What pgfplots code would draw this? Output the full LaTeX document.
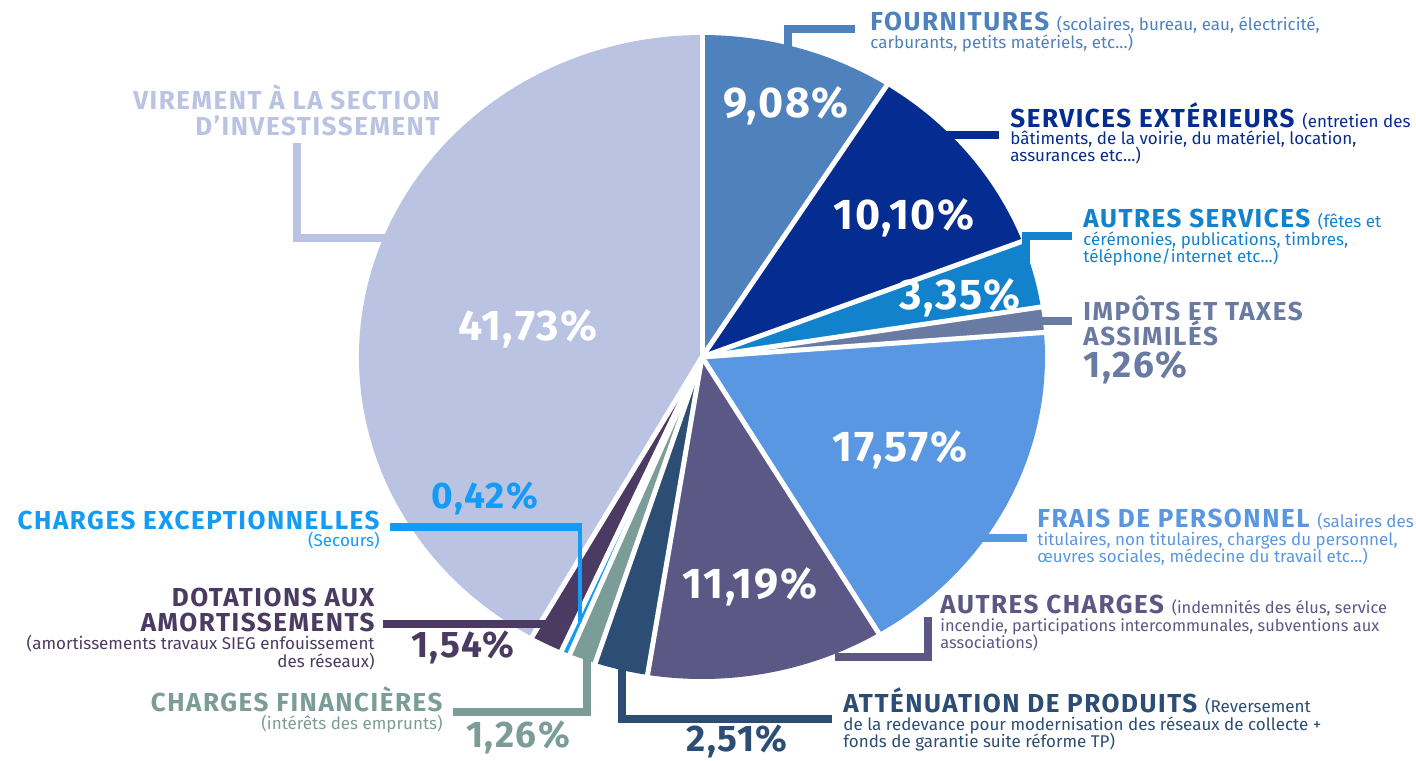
\documentclass[border=0pt]{standalone}
\usepackage{pgfplots}
\pgfplotsset{compat=1.18}
\usepackage{fontspec}
\setmainfont{Fira Sans}
\newfontfamily\capfam[LetterSpace=6]{Fira Sans}
\newfontfamily\pctfam[LetterSpace=4]{Fira Sans}
\definecolor{cF}{RGB}{79,129,189}
\definecolor{cS}{RGB}{4,44,145}
\definecolor{cA}{RGB}{18,130,204}
\definecolor{cI}{RGB}{106,123,163}
\definecolor{cP}{RGB}{90,151,226}
\definecolor{cC}{RGB}{91,88,134}
\definecolor{cT}{RGB}{44,77,116}
\definecolor{cN}{RGB}{124,156,151}
\definecolor{cE}{RGB}{20,155,245}
\definecolor{cD}{RGB}{75,58,98}
\definecolor{cV}{RGB}{186,195,226}
% pie centre and radii (pixel coordinates / pt)
\newcommand{\slice}[3]{\fill[#3] (axis cs:702,357) -- ++({171.5pt*cos(90-3.6*#1)},{161pt*sin(90-3.6*#1)}) arc[start angle={90-3.6*#1}, end angle={90-3.6*#2}, x radius=171.5pt, y radius=161pt] -- cycle;}
\newcommand{\gap}[1]{\draw[white, line width=2.5pt] (axis cs:702,357) -- ++({176pt*cos(90-3.6*#1)},{166pt*sin(90-3.6*#1)});}
\newcommand{\capf}{\capfam\fontsize{13}{13}\selectfont\bfseries}
\newcommand{\smf}{\normalfont\fontsize{8.5}{10}\selectfont}
\newcommand{\smc}{\normalfont\fontsize{8.2}{10}\selectfont}
\newcommand{\pin}{\pctfam\fontsize{21.5}{21.5}\selectfont\bfseries}
\newcommand{\pout}{\pctfam\fontsize{18.5}{18.5}\selectfont\bfseries}
\begin{document}
\begin{tikzpicture}
\begin{axis}[width=708pt, height=380pt, scale only axis, hide axis, clip=false,
  xmin=0, xmax=1416, ymin=0, ymax=760, y dir=reverse]
% slices: cumulative percentages (start, end)
\slice{0}{9.08}{cF}
\slice{9.08}{19.18}{cS}
\slice{19.18}{22.53}{cA}
\slice{22.53}{23.79}{cI}
\slice{23.79}{41.36}{cP}
\slice{41.36}{52.55}{cC}
\slice{52.55}{55.06}{cT}
\slice{55.06}{56.32}{cN}
\slice{56.32}{56.74}{cE}
\slice{56.74}{58.28}{cD}
\slice{58.28}{100}{cV}
\gap{0}\gap{9.08}\gap{19.18}\gap{22.53}\gap{23.79}\gap{41.36}\gap{52.55}\gap{55.06}\gap{56.32}\gap{56.74}\gap{58.28}
% leaders
\begin{scope}[line width=4.2pt, line join=miter]
\draw[cF] (axis cs:788,62) -- (axis cs:788,29) -- (axis cs:855,29);
\draw[cS] (axis cs:935,135) -- (axis cs:999,135);
\draw[cA] (axis cs:1026,268) -- (axis cs:1026,236) -- (axis cs:1072,236);
\draw[cI] (axis cs:1030,321) -- (axis cs:1072,321);
\draw[cP] (axis cs:970,538) -- (axis cs:1027,538);
\draw[cC] (axis cs:835,657) -- (axis cs:928,657) -- (axis cs:928,617);
\draw[cT] (axis cs:622,660) -- (axis cs:622,719) -- (axis cs:832,719);
\draw[cN] (axis cs:587,655) -- (axis cs:587,712) -- (axis cs:453,712);
\draw[cE] (axis cs:390,527) -- (axis cs:582,527);
\draw[cE, line width=1.6pt] (axis cs:580,527) -- (axis cs:580,622);
\draw[cD] (axis cs:383,624) -- (axis cs:545,624);
\draw[cV] (axis cs:297,143) -- (axis cs:297,238) -- (axis cs:400,238);
\end{scope}
% percentages inside slices
\begin{scope}[inner sep=0pt, text=white]
\node[anchor=base] at (axis cs:786,117) {\pin 9,08\%};
\node[anchor=base] at (axis cs:904,229) {\pin 10,10\%};
\node[anchor=base] at (axis cs:960,309) {\pin 3,35\%};
\node[anchor=base] at (axis cs:900,461) {\pin 17,57\%};
\node[anchor=base] at (axis cs:750,598) {\pin 11,19\%};
\node[anchor=base] at (axis cs:528,340) {\pin 41,73\%};
\end{scope}
% labels right side
\begin{scope}[inner sep=0pt]
\node[anchor=base west, text=cF] at (axis cs:870,30) {\capf FOURNITURES \smf(scolaires, bureau, eau, électricité,};
\node[anchor=base west, text=cF] at (axis cs:870,48) {\smf carburants, petits matériels, etc...)};
\node[anchor=base west, text=cS] at (axis cs:1010,127) {\capf SERVICES EXTÉRIEURS \smf(entretien des};
\node[anchor=base west, text=cS] at (axis cs:1010,144) {\smf bâtiments, de la voirie, du matériel, location,};
\node[anchor=base west, text=cS] at (axis cs:1010,161) {\smf assurances etc...)};
\node[anchor=base west, text=cA] at (axis cs:1083,227) {\capf AUTRES SERVICES \smf(fêtes et};
\node[anchor=base west, text=cA] at (axis cs:1083,245) {\smf cérémonies, publications, timbres,};
\node[anchor=base west, text=cA] at (axis cs:1083,262) {\smf téléphone/internet etc...)};
\node[anchor=base west, text=cI] at (axis cs:1083,320) {\capf IMPÔTS ET TAXES};
\node[anchor=base west, text=cI] at (axis cs:1083,345) {\capf ASSIMILÉS};
\node[anchor=base west, text=cI] at (axis cs:1083,377) {\pout 1,26\%};
\node[anchor=base west, text=cP] at (axis cs:1037,527) {\capf FRAIS DE PERSONNEL \smf(salaires des};
\node[anchor=base west, text=cP] at (axis cs:1037,545) {\smf titulaires, non titulaires, charges du personnel,};
\node[anchor=base west, text=cP] at (axis cs:1037,562) {\smf œuvres sociales, médecine du travail etc...)};
\node[anchor=base west, text=cC] at (axis cs:940,613) {\capf AUTRES CHARGES \smc(indemnités des élus, service};
\node[anchor=base west, text=cC] at (axis cs:940,631) {\smc incendie, participations intercommunales, subventions aux};
\node[anchor=base west, text=cC] at (axis cs:940,648) {\smc associations)};
\node[anchor=base west, text=cT] at (axis cs:843,712) {\capf ATTÉNUATION DE PRODUITS \smf(Reversement};
\node[anchor=base west, text=cT] at (axis cs:843,730) {\smf de la redevance pour modernisation des réseaux de collecte +};
\node[anchor=base west, text=cT] at (axis cs:843,747) {\smf fonds de garantie suite réforme TP)};
\node[anchor=base, text=cT] at (axis cs:737,751) {\pout 2,51\%};
% labels left side
\node[anchor=base east, text=cN] at (axis cs:443,711) {\capf CHARGES FINANCIÈRES};
\node[anchor=base east, text=cN] at (axis cs:443,729) {\smf(intérêts des emprunts)};
\node[anchor=base, text=cN] at (axis cs:518,747) {\pout 1,26\%};
\node[anchor=base east, text=cD] at (axis cs:375,606) {\capf DOTATIONS AUX};
\node[anchor=base east, text=cD] at (axis cs:375,631) {\capf AMORTISSEMENTS};
\node[anchor=base east, text=cD] at (axis cs:375,649) {\smf(amortissements travaux SIEG enfouissement};
\node[anchor=base east, text=cD] at (axis cs:375,667) {\smf des réseaux)};
\node[anchor=base, text=cD] at (axis cs:463,657) {\pout 1,54\%};
\node[anchor=base east, text=cE] at (axis cs:380,529) {\capf CHARGES EXCEPTIONNELLES};
\node[anchor=base east, text=cE] at (axis cs:380,546) {\smf(Secours)};
\node[anchor=base, text=cE] at (axis cs:485,508) {\pout 0,42\%};
\node[anchor=base east, text=cV] at (axis cs:440,109) {\capf VIREMENT À LA SECTION};
\node[anchor=base east, text=cV] at (axis cs:440,135) {\capf D’INVESTISSEMENT};
\end{scope}
\end{axis}
\pgfresetboundingbox
\path[use as bounding box] (current axis.south west) rectangle (current axis.north east);
\end{tikzpicture}
\end{document}
